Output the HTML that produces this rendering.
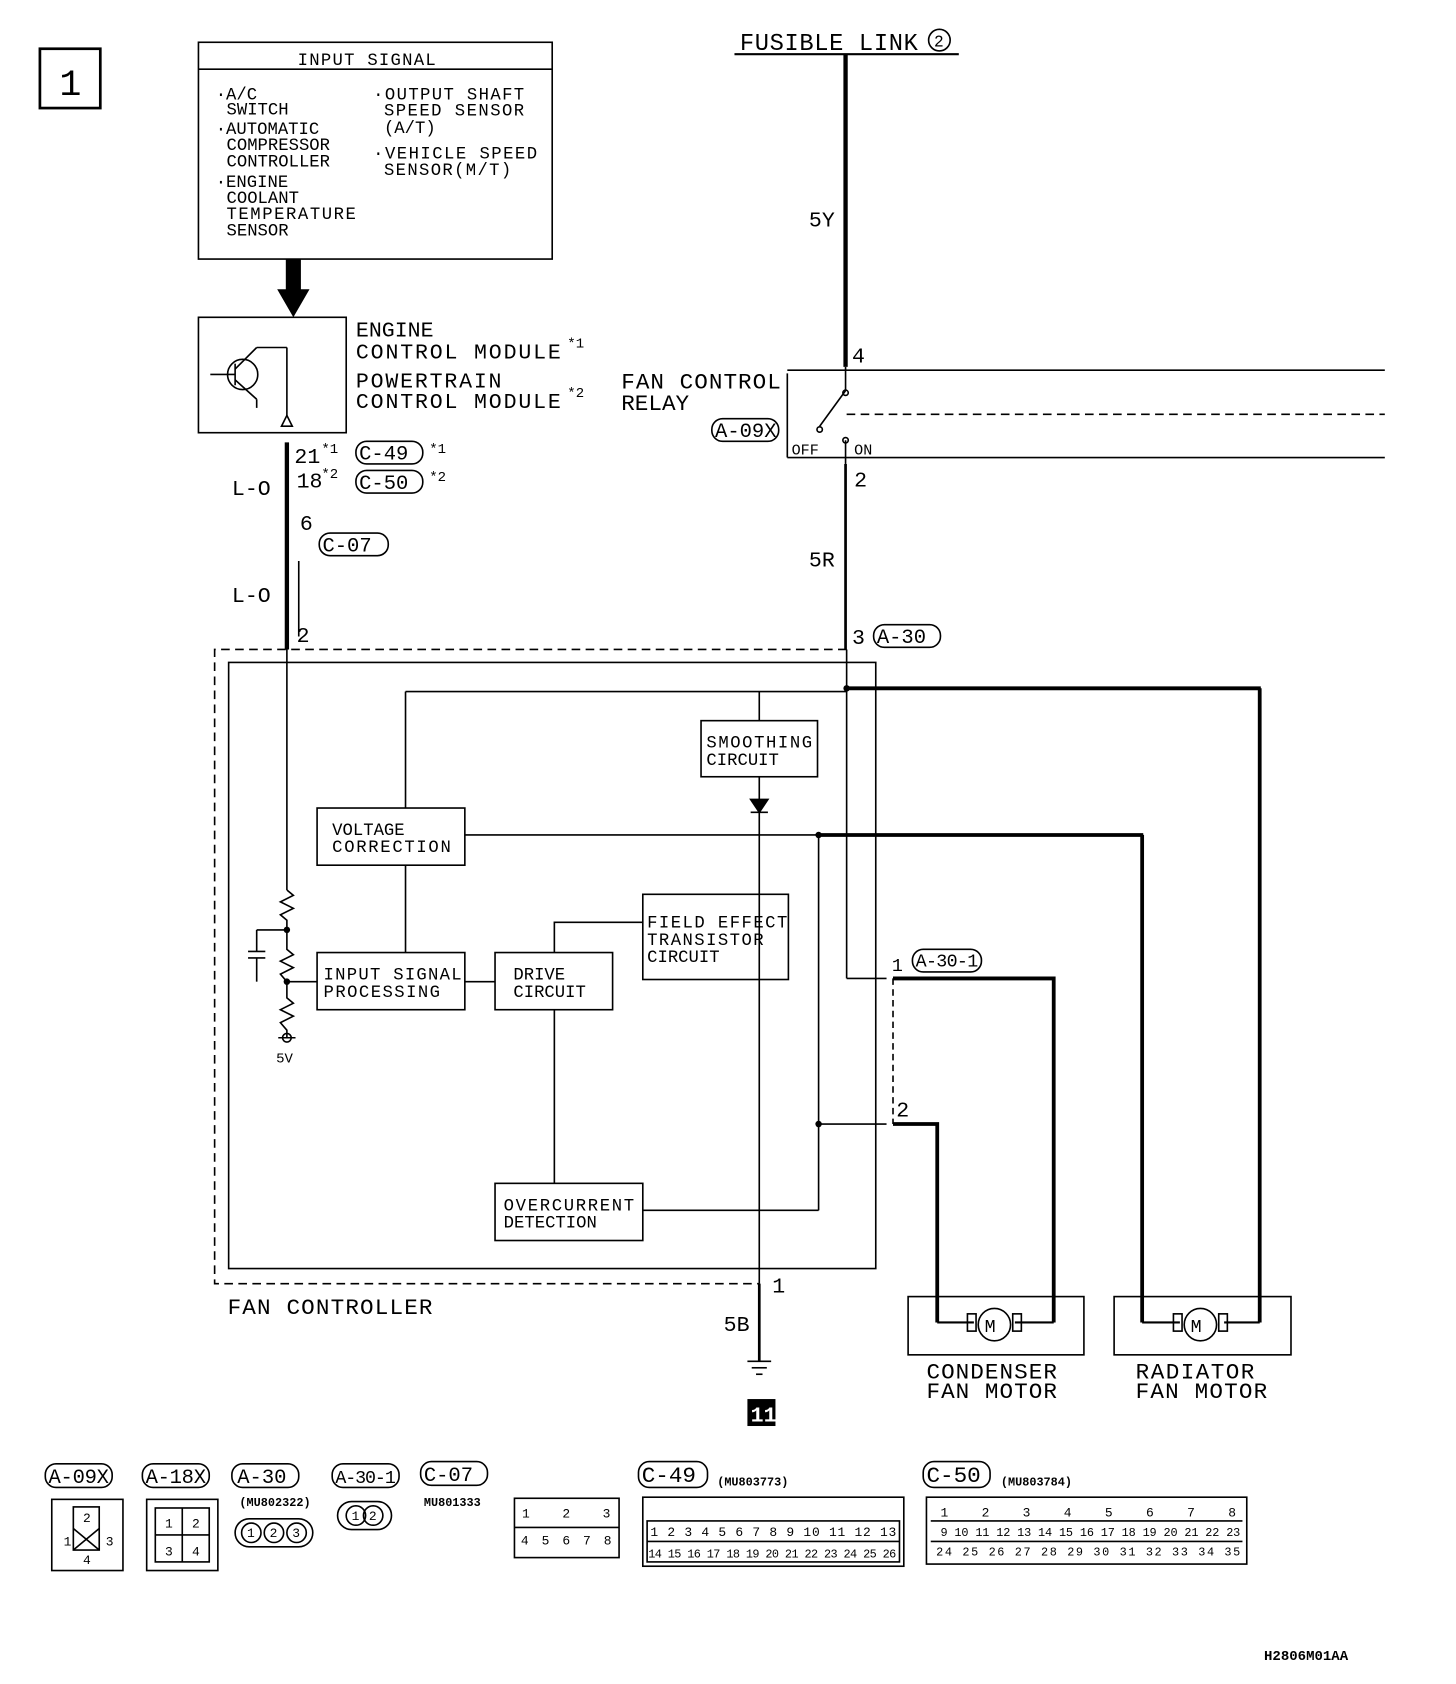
<!DOCTYPE html>
<html><head><meta charset="utf-8"><style>
html,body{margin:0;padding:0;background:#fff;}
svg{display:block}
text{font-family:"Liberation Mono",monospace}
</style></head><body>
<svg width="1456" height="1684" viewBox="0 0 1350 1561" xmlns="http://www.w3.org/2000/svg">
<g fill="none" stroke="#000" stroke-width="1.5">
<rect x="37" y="45" width="56" height="55" stroke-width="2.5"/>
<rect x="184" y="39" width="328" height="201"/>
<line x1="184" y1="64" x2="512" y2="64"/>
<rect x="184" y="294" width="137" height="107"/>
<circle cx="225" cy="347" r="14"/>
<line x1="195" y1="347" x2="218" y2="347"/>
<line x1="218" y1="337" x2="218" y2="357"/>
<line x1="218" y1="342" x2="238" y2="322"/>
<line x1="218" y1="352" x2="238" y2="370"/>
<line x1="238" y1="322" x2="266" y2="322"/><line x1="266" y1="322" x2="266" y2="385"/>
<line x1="238" y1="370" x2="238" y2="378"/>
<polygon points="261,395 271,395 266,385"/>
<line x1="266" y1="410" x2="266" y2="602" stroke-width="4"/>
<line x1="277" y1="520" x2="277" y2="590"/>
<line x1="681" y1="50" x2="889" y2="50" stroke-width="2"/>
<circle cx="871" cy="37" r="10"/>
<line x1="784" y1="50" x2="784" y2="340" stroke-width="4"/>
<line x1="730" y1="346" x2="730" y2="424"/>
<line x1="730" y1="343" x2="1284" y2="343"/>
<line x1="730" y1="424" x2="1284" y2="424"/>
<line x1="785" y1="384" x2="1284" y2="384" stroke-dasharray="8,5"/>
<line x1="784" y1="340" x2="784" y2="362"/>
<line x1="784" y1="362" x2="760" y2="395"/>
<line x1="784" y1="408" x2="784" y2="430"/>
<circle cx="784" cy="364" r="2.5"/><circle cx="760" cy="398" r="2.5"/><circle cx="784" cy="408" r="2.5"/>
<line x1="784" y1="430" x2="784" y2="602" stroke-width="2.5"/>
<polyline points="785,602 199,602 199,1190 704,1190" stroke-dasharray="8,5"/>
<rect x="212" y="614" width="600" height="562"/>
<line x1="266" y1="602" x2="266" y2="825"/>
<polyline points="266,825 272,830 260,836 272,842 260,848 266,853 266,880 272,885 260,891 272,897 260,903 266,910 266,925 272,930 260,936 272,942 260,948 266,955 266,962"/>
<circle cx="266" cy="962" r="4"/>
<line x1="258" y1="962" x2="274" y2="962"/>
<line x1="238" y1="862" x2="266" y2="862"/>
<line x1="238" y1="862" x2="238" y2="882"/>
<line x1="230" y1="882" x2="246" y2="882"/><line x1="230" y1="888" x2="246" y2="888"/>
<line x1="238" y1="888" x2="238" y2="910"/>
<line x1="266" y1="910" x2="294" y2="910"/>
<rect x="294" y="749" width="137" height="53"/>
<rect x="294" y="883" width="137" height="53"/>
<rect x="459" y="883" width="109" height="53"/>
<rect x="596" y="829" width="135" height="79"/>
<rect x="650" y="668" width="108" height="52"/>
<rect x="459" y="1097" width="137" height="53"/>
<line x1="376" y1="641" x2="376" y2="749"/>
<line x1="376" y1="641" x2="785" y2="641"/>
<line x1="376" y1="802" x2="376" y2="883"/>
<line x1="431" y1="910" x2="459" y2="910"/>
<polyline points="514,883 514,855 596,855"/>
<line x1="514" y1="936" x2="514" y2="1097"/>
<line x1="704" y1="641" x2="704" y2="668"/>
<line x1="704" y1="720" x2="704" y2="1190"/>
<polygon points="696,741 712,741 704,753" fill="#000"/>
<line x1="696" y1="753" x2="712" y2="753"/>
<line x1="431" y1="774" x2="1060" y2="774"/>
<line x1="759" y1="774" x2="1060" y2="774" stroke-width="3.5"/>
<line x1="1059" y1="774" x2="1059" y2="1226" stroke-width="3.5"/>
<line x1="759" y1="774" x2="759" y2="1122"/>
<line x1="596" y1="1122" x2="759" y2="1122"/>
<line x1="759" y1="1042" x2="822" y2="1042"/>
<line x1="785" y1="602" x2="785" y2="907"/>
<line x1="785" y1="907" x2="822" y2="907"/>
<line x1="785" y1="638" x2="1169" y2="638" stroke-width="3.5"/>
<line x1="1168" y1="638" x2="1168" y2="1226" stroke-width="3.5"/>
<line x1="828" y1="907" x2="828" y2="1042" stroke-dasharray="6,4"/>
<polyline points="828,907 977,907 977,1226" stroke-width="3.5"/>
<polyline points="828,1042 869,1042 869,1226" stroke-width="3.5"/>
<line x1="704" y1="1190" x2="704" y2="1262" stroke-width="2.5"/>
<line x1="693" y1="1262" x2="715" y2="1262"/><line x1="697" y1="1268" x2="711" y2="1268"/><line x1="701" y1="1274" x2="707" y2="1274"/>
<rect x="842" y="1202" width="163" height="54"/>
<rect x="1033" y="1202" width="164" height="54"/>
<line x1="869" y1="1226" x2="903" y2="1226" stroke-width="2"/><line x1="941" y1="1226" x2="977" y2="1226" stroke-width="2"/>
<line x1="1059" y1="1226" x2="1094" y2="1226" stroke-width="2"/><line x1="1135" y1="1226" x2="1168" y2="1226" stroke-width="2"/>
<rect x="897" y="1218" width="8" height="16"/><rect x="939" y="1218" width="8" height="16"/>
<rect x="1088" y="1218" width="8" height="16"/><rect x="1130" y="1218" width="8" height="16"/>
<circle cx="922" cy="1228" r="15"/><circle cx="1113" cy="1228" r="15"/>
<rect x="330" y="409" width="62" height="21" rx="10"/>
<rect x="330" y="436" width="62" height="21" rx="10"/>
<rect x="296" y="494" width="64" height="21" rx="10"/>
<rect x="660" y="388" width="62" height="21" rx="10"/>
<rect x="810" y="579" width="62" height="21" rx="10"/>
<rect x="846" y="880" width="64" height="21" rx="10"/>
<rect x="42" y="1357" width="62" height="22" rx="10"/>
<rect x="132" y="1357" width="62" height="22" rx="10"/>
<rect x="215" y="1357" width="62" height="22" rx="10"/>
<rect x="308" y="1357" width="62" height="22" rx="10"/>
<rect x="390" y="1355" width="62" height="22" rx="10"/>
<rect x="592" y="1355" width="64" height="24" rx="10"/>
<rect x="856" y="1355" width="62" height="24" rx="10"/>
<rect x="48" y="1390" width="66" height="66"/><rect x="68" y="1397" width="24" height="40"/>
<line x1="68" y1="1417" x2="92" y2="1437"/><line x1="92" y1="1417" x2="68" y2="1437"/>
<rect x="136" y="1390" width="66" height="66"/><rect x="144" y="1398" width="50" height="50"/><line x1="144" y1="1423" x2="194" y2="1423"/><line x1="169" y1="1398" x2="169" y2="1448"/>
<rect x="218" y="1408" width="72" height="26" rx="13"/>
<circle cx="233" cy="1421" r="9"/><circle cx="254" cy="1421" r="9"/><circle cx="275" cy="1421" r="9"/>
<rect x="313" y="1392" width="50" height="26" rx="13"/>
<circle cx="330" cy="1405" r="9"/><circle cx="346" cy="1405" r="9"/>
<rect x="477" y="1389" width="97" height="55"/>
<line x1="477" y1="1416" x2="574" y2="1416"/>
<rect x="596" y="1388" width="242" height="64"/>
<rect x="600" y="1410" width="234" height="38"/>
<line x1="600" y1="1429" x2="834" y2="1429"/>
<rect x="859" y="1388" width="297" height="62"/>
<line x1="863" y1="1410" x2="1152" y2="1410"/><line x1="863" y1="1429" x2="1152" y2="1429"/>
</g>
<g fill="#000">
<rect x="265" y="240" width="14" height="30"/>
<polygon points="257,268 287,268 272,294"/>
<circle cx="266" cy="862" r="3"/><circle cx="266" cy="910" r="3"/>
<circle cx="759" cy="774" r="3"/><circle cx="759" cy="1042" r="3"/><circle cx="785" cy="638" r="3"/>
<rect x="693" y="1297" width="26" height="25"/>
</g>
<g font-size="16" fill="#000">
<text x="55" y="88" font-size="34" font-family="Liberation Sans">1</text>
<text x="276" y="60" font-size="16" textLength="128">INPUT SIGNAL</text>
<text x="200" y="92">·A/C</text><text x="210" y="106">SWITCH</text>
<text x="200" y="124">·AUTOMATIC</text><text x="210" y="139">COMPRESSOR</text><text x="210" y="154">CONTROLLER</text>
<text x="200" y="173">·ENGINE</text><text x="210" y="188">COOLANT</text><text x="210" y="203" textLength="120">TEMPERATURE</text><text x="210" y="218">SENSOR</text>
<text x="346" y="92" textLength="140">·OUTPUT SHAFT</text><text x="356" y="107" textLength="130">SPEED SENSOR</text><text x="356" y="123">(A/T)</text>
<text x="346" y="147" textLength="152">·VEHICLE SPEED</text><text x="356" y="162" textLength="118">SENSOR(M/T)</text>
<text x="330" y="312" font-size="20">ENGINE</text>
<text x="330" y="332" font-size="20" textLength="190">CONTROL MODULE</text><text x="526" y="322" font-size="13">*1</text>
<text x="330" y="359" font-size="20" textLength="135">POWERTRAIN</text>
<text x="330" y="378" font-size="20" textLength="190">CONTROL MODULE</text><text x="526" y="368" font-size="13">*2</text>
<text x="273" y="429" font-size="20">21</text><text x="298" y="420" font-size="13">*1</text>
<text x="275" y="452" font-size="20">18</text><text x="298" y="443" font-size="13">*2</text>
<text x="333" y="426" font-size="19">C-49</text><text x="398" y="420" font-size="13">*1</text>
<text x="333" y="453" font-size="19">C-50</text><text x="398" y="446" font-size="13">*2</text>
<text x="215" y="459" font-size="20">L-O</text>
<text x="278" y="491" font-size="20">6</text>
<text x="299" y="511" font-size="19">C-07</text>
<text x="215" y="558" font-size="20">L-O</text>
<text x="275" y="595" font-size="20">2</text>
<text x="686" y="46" font-size="22" textLength="165">FUSIBLE LINK</text><text x="866" y="43" font-size="15">2</text>
<text x="750" y="210" font-size="20">5Y</text>
<text x="790" y="336" font-size="20">4</text>
<text x="576" y="360" font-size="21" textLength="148">FAN CONTROL</text>
<text x="576" y="380" font-size="21">RELAY</text>
<text x="663" y="405" font-size="19">A-09X</text>
<text x="734" y="421" font-size="14">OFF</text><text x="792" y="421" font-size="14">ON</text>
<text x="792" y="451" font-size="20">2</text>
<text x="750" y="525" font-size="20">5R</text>
<text x="790" y="597" font-size="20">3</text><text x="813" y="596" font-size="19">A-30</text>
<text x="655" y="693" font-size="16" textLength="98">SMOOTHING</text><text x="655" y="709" font-size="16">CIRCUIT</text>
<text x="308" y="774" font-size="16">VOLTAGE</text><text x="308" y="790" font-size="16" textLength="110">CORRECTION</text>
<text x="600" y="860" font-size="16" textLength="130">FIELD EFFECT</text><text x="600" y="876" font-size="16" textLength="108">TRANSISTOR</text><text x="600" y="892" font-size="16">CIRCUIT</text>
<text x="300" y="908" font-size="16" textLength="128">INPUT SIGNAL</text><text x="300" y="924" font-size="16" textLength="108">PROCESSING</text>
<text x="476" y="908" font-size="16">DRIVE</text><text x="476" y="924" font-size="16">CIRCUIT</text>
<text x="467" y="1122" font-size="16" textLength="121">OVERCURRENT</text><text x="467" y="1138" font-size="16">DETECTION</text>
<text x="256" y="985" font-size="13">5V</text>
<text x="827" y="900" font-size="17">1</text><text x="849" y="896" font-size="17" textLength="58">A-30-1</text>
<text x="831" y="1035" font-size="20">2</text>
<text x="716" y="1198" font-size="20">1</text>
<text x="211" y="1218" font-size="21" textLength="190">FAN CONTROLLER</text>
<text x="671" y="1234" font-size="20">5B</text>
<text x="696" y="1318" font-size="20" style="fill:#fff" font-weight="bold" font-family="Liberation Sans">11</text>
<text x="859" y="1278" font-size="21" textLength="121">CONDENSER</text><text x="859" y="1296" font-size="21" textLength="121">FAN MOTOR</text>
<text x="1053" y="1278" font-size="21" textLength="110">RADIATOR</text><text x="1053" y="1296" font-size="21" textLength="122">FAN MOTOR</text>
<text x="913" y="1235" font-size="17">M</text><text x="1104" y="1235" font-size="17">M</text>
<text x="45" y="1375" font-size="19" textLength="56">A-09X</text>
<text x="135" y="1375" font-size="19" textLength="56">A-18X</text>
<text x="220" y="1375" font-size="19">A-30</text>
<text x="311" y="1375" font-size="17" textLength="56">A-30-1</text>
<text x="393" y="1373" font-size="19">C-07</text>
<text x="595" y="1374" font-size="21">C-49</text>
<text x="859" y="1374" font-size="21">C-50</text>
<text x="222" y="1396" font-size="11" font-family="Liberation Sans" font-weight="bold">(MU802322)</text>
<text x="393" y="1396" font-size="11" font-family="Liberation Sans" font-weight="bold">MU801333</text>
<text x="665" y="1377" font-size="11" font-family="Liberation Sans" font-weight="bold">(MU803773)</text>
<text x="928" y="1377" font-size="11" font-family="Liberation Sans" font-weight="bold">(MU803784)</text>
<g font-size="12" font-family="Liberation Sans">
<text x="77" y="1411">2</text><text x="59" y="1433">1</text><text x="98" y="1433">3</text><text x="77" y="1450">4</text>
<text x="153" y="1416">1</text><text x="178" y="1416">2</text><text x="153" y="1442">3</text><text x="178" y="1442">4</text>
<text x="229" y="1425">1</text><text x="250" y="1425">2</text><text x="271" y="1425">3</text>
<text x="326" y="1409">1</text><text x="342" y="1409">2</text>
<text x="484" y="1407" textLength="82">1 2   3</text><text x="483" y="1432" textLength="84">4 5 6 7 8</text>
<text x="603" y="1424" textLength="228">1 2 3 4 5 6 7 8 9 10 11 12 13</text>
<text x="601" y="1444" font-size="11" textLength="230">14 15 16 17 18 19 20 21 22 23 24 25 26</text>
<text x="872" y="1406" textLength="274">1  2     3 4         5 6   7 8</text>
<text x="872" y="1424" font-size="11" textLength="278">9  10 11 12 13 14 15 16 17 18 19 20 21 22 23</text>
<text x="868" y="1442" font-size="11" textLength="282">24 25    26 27 28 29  30 31 32 33  34 35</text>
</g>
<text x="1172" y="1539" font-size="13" font-family="Liberation Sans" font-weight="bold">H2806M01AA</text>
</g>
</svg>
</body></html>
